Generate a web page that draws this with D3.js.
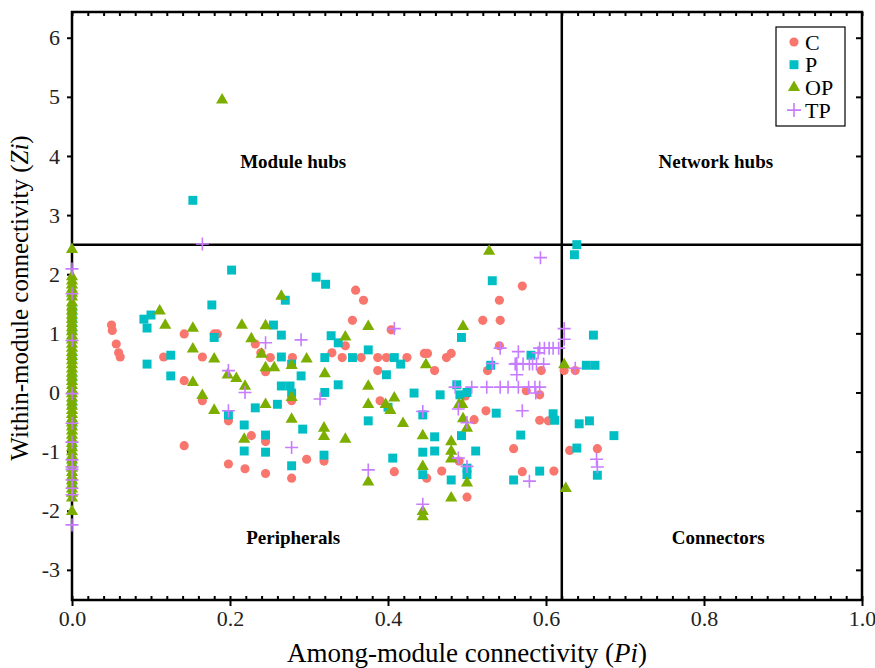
<!DOCTYPE html>
<html>
<head>
<meta charset="utf-8">
<script src="https://cdn.jsdelivr.net/npm/d3@7"></script>
<style>
  body { margin: 0; background: #fff; }
  text { font-family: "Liberation Serif", "Times New Roman", serif; }
</style>
</head>
<body>
<div id="chart"></div>
<script>
// Pi / Zi values
var cPoints = [[0.05,1.14],[0.051,1.05],[0.056,0.82],[0.059,0.67],[0.061,0.6],
  [0.142,0.99],[0.18,0.99],[0.184,0.99],[0.116,0.6],[0.165,0.6],
  [0.142,0.2],[0.165,-0.14],[0.232,0.82],[0.239,0.67],[0.251,0.59],[0.279,0.59],[0.245,0.35],[0.278,-0.14],
  [0.198,-0.48],[0.227,-0.73],[0.245,-0.83],[0.142,-0.9],[0.198,-1.21],[0.219,-1.29],[0.245,-1.37],[0.278,-1.45],[0.297,-1.13],
  [0.57,1.8],[0.359,1.73],[0.369,1.56],[0.541,1.56],[0.355,1.22],[0.52,1.22],[0.542,1.22],[0.404,1.06],
  [0.346,0.79],[0.329,0.67],[0.342,0.59],[0.366,0.59],[0.387,0.59],[0.398,0.59],[0.424,0.59],[0.446,0.66],[0.45,0.66],[0.474,0.59],[0.48,0.66],
  [0.459,0.37],[0.387,0.37],[0.39,-0.14],[0.498,-0.06],[0.575,0.03],[0.592,-0.04],[0.524,-0.31],[0.592,-0.47],[0.603,-0.48],[0.509,-0.46],
  [0.541,0.79],[0.526,0.37],[0.594,0.37],[0.623,0.37],[0.637,0.37],[0.559,-0.95],
  [0.319,-1.16],[0.408,-1.34],[0.449,-1.45],[0.468,-1.33],[0.49,-1.16],[0.5,-1.77],[0.57,-1.34],[0.61,-1.33],[0.63,-0.98],[0.665,-0.95]];

var pPoints = [[0,1.38],[0,1.3],[0,1.2],[0,1.07],[0,0.6],[0,0.25],[0,-0.2],[0,-0.55],[0,-0.9],[0,-1.2],[0,-1.55],
  [0.153,3.25],[0.202,2.07],[0.177,1.48],[0.27,1.56],[0.1,1.31],[0.091,1.24],[0.095,1.09],[0.18,0.93],[0.125,0.63],[0.095,0.48],[0.125,0.28],
  [0.198,-0.38],[0.232,-0.26],[0.26,-0.2],[0.255,1.14],[0.265,0.97],[0.265,0.6],[0.278,0.48],[0.29,0.28],[0.265,0.11],[0.276,0.11],[0.278,-0.01],
  [0.218,-0.55],[0.245,-0.72],[0.218,-0.99],[0.245,-1.01],[0.292,-0.62],[0.278,-1.24],
  [0.309,1.95],[0.321,1.83],[0.532,1.89],[0.493,0.93],[0.328,0.96],[0.337,0.84],[0.375,0.72],[0.32,0.59],[0.355,0.59],[0.408,0.59],[0.416,0.48],[0.398,0.3],[0.337,0.13],[0.32,0.0],
  [0.433,-0.01],[0.466,-0.04],[0.487,0.13],[0.491,-0.04],[0.5,0.0],[0.444,-0.38],[0.537,-0.35],[0.609,-0.36],[0.611,-0.47],[0.53,0.46],[0.581,0.63],
  [0.459,-0.75],[0.493,-0.73],[0.568,-0.72],[0.4,-0.25],[0.375,-0.48],[0.319,-1.06],[0.406,-1.11],[0.444,-1.01],[0.459,-0.99],[0.444,-1.39],[0.5,-1.28],[0.5,-1.39],[0.48,-1.48],
  [0.511,-0.99],[0.559,-1.48],[0.592,-1.33],[0.639,-0.94],[0.642,-0.53],
  [0.639,2.5],[0.636,2.33],[0.66,0.97],[0.651,0.46],[0.662,0.46],[0.655,-0.48],[0.686,-0.73],[0.665,-1.4]];

var opPoints = [[0,2.4],[0,1.94],[0,1.87],[0,1.8],[0,1.73],[0,1.66],[0,1.6],[0,1.5],[0,1.43],[0,1.36],[0,1.29],[0,1.22],
  [0,1.15],[0,1.08],[0,1.01],[0,0.94],[0,0.87],[0,0.8],[0,0.73],[0,0.66],[0,0.59],[0,0.52],[0,0.45],[0,0.38],[0,0.31],
  [0,0.24],[0,0.17],[0,0.1],[0,0.03],[0,-0.04],[0,-0.11],[0,-0.18],[0,-0.25],[0,-0.32],[0,-0.39],[0,-0.46],[0,-0.53],
  [0,-0.6],[0,-0.67],[0,-0.74],[0,-0.81],[0,-0.88],[0,-0.95],[0,-1.02],[0,-1.09],[0,-1.16],[0,-1.23],[0,-1.3],[0,-1.37],
  [0,-1.44],[0,-1.51],[0,-1.58],[0,-1.65],[0,-1.72],[0,-1.8],[0,-2.03],
  [0.19,4.93],[0.265,1.61],[0.111,1.36],[0.118,1.12],[0.153,1.07],[0.153,0.72],[0.18,0.55],[0.153,0.15],[0.165,-0.07],[0.18,-0.32],
  [0.197,0.28],[0.208,0.22],[0.219,0.09],[0.245,-0.22],[0.278,-0.47],
  [0.215,1.12],[0.245,1.11],[0.227,0.89],[0.24,0.63],[0.297,0.55],[0.278,0.44],[0.245,0.4],[0.256,0.4],[0.278,-0.1],[0.218,-0.81],
  [0.528,2.37],[0.375,1.1],[0.495,1.1],[0.346,0.92],[0.448,0.45],[0.32,0.3],[0.375,0.09],[0.408,-0.11],[0.375,-0.22],[0.397,-0.22],
  [0.403,-0.32],[0.49,-0.22],[0.494,-0.22],[0.623,0.45],[0.419,-0.54],[0.444,-0.75],[0.48,-0.85],[0.495,-0.46],[0.5,-0.62],
  [0.319,-0.62],[0.319,-0.76],[0.346,-0.81],[0.375,-1.53],[0.444,-1.27],[0.444,-2.03],[0.444,-2.12],[0.48,-1.01],[0.48,-1.14],
  [0.5,-1.55],[0.48,-1.8],[0.625,-1.64]];

var tpPoints = [[0,2.09],[0,1.67],[0,0.88],[0,-0.02],[0,-0.52],[0,-0.84],[0,-1.14],[0,-1.26],[0,-1.3],[0,-1.48],[0,-1.62],[0,-1.73],[0,-2.24],
  [0.165,2.51],[0.198,-0.31],[0.198,0.37],[0.219,0.0],[0.245,0.84],[0.29,0.89],[0.278,-0.93],
  [0.593,2.28],[0.408,1.08],[0.314,-0.11],[0.485,0.09],[0.506,0.09],[0.525,0.09],[0.542,0.09],[0.552,0.09],[0.565,0.09],[0.578,0.09],[0.586,0.09],[0.592,0.09],
  [0.587,-0.01],[0.489,-0.28],[0.444,-0.32],[0.57,-0.31],[0.542,0.75],[0.532,0.49],[0.565,0.69],[0.563,0.49],[0.563,0.3],
  [0.561,0.48],[0.571,0.48],[0.579,0.48],[0.583,0.48],[0.588,0.48],[0.597,0.48],[0.59,0.67],
  [0.592,0.75],[0.598,0.75],[0.604,0.75],[0.609,0.75],[0.616,0.75],[0.623,1.08],[0.623,0.9],[0.637,0.41],[0.5,-0.51],
  [0.375,-1.31],[0.489,-1.11],[0.5,-1.25],[0.444,-1.89],[0.579,-1.5],[0.664,-1.13],[0.665,-1.26]];

var roles = ["C", "P", "OP", "TP"];
var roleColors = ["#F8766D", "#00BFC4", "#7CAE00", "#C77CFF"];
var xTicks = [0, 0.2, 0.4, 0.6, 0.8, 1.0];
var yTicks = [-3, -2, -1, 0, 1, 2, 3, 4, 5, 6];
var piCut = 0.62, ziCut = 2.5;
var zones = [
  {name: "Module hubs", pi: 0.28, zi: 3.8},
  {name: "Network hubs", pi: 0.815, zi: 3.8},
  {name: "Peripherals", pi: 0.28, zi: -2.57},
  {name: "Connectors", pi: 0.818, zi: -2.57}
];

var W = 875, H = 668;
var m = {left: 72, right: 862, top: 12, bottom: 600};

var svg = d3.select("#chart").append("svg")
    .attr("width", W)
    .attr("height", H);

var x = d3.scaleLinear().domain([0, 1]).range([m.left, m.right]);
var y = d3.scaleLinear().domain([-3.51, 6.435]).range([m.bottom, m.top]);

// axes
var minor = d3.range(0, 1.0001, 0.02);

svg.append("g")
    .attr("transform", "translate(0," + m.bottom + ")")
    .call(d3.axisBottom(x).tickValues(minor).tickSize(-4).tickFormat(""))
    .call(function(g) { g.select(".domain").remove(); });

svg.append("g")
    .attr("class", "x axis")
    .attr("transform", "translate(0," + m.bottom + ")")
    .call(d3.axisBottom(x).tickValues(xTicks).tickSize(6).tickPadding(4).tickFormat(d3.format(".1f")))
    .call(function(g) { g.select(".domain").remove(); });

svg.append("g")
    .attr("transform", "translate(0," + m.top + ")")
    .call(d3.axisTop(x).tickValues(minor).tickSize(-4).tickFormat(""))
    .call(function(g) { g.select(".domain").remove(); });

svg.append("g")
    .attr("class", "y axis")
    .attr("transform", "translate(" + m.left + ",0)")
    .call(d3.axisLeft(y).tickValues(yTicks).tickSize(5).tickPadding(7)
      .tickFormat(function(d) { return String(d); }))
    .call(function(g) { g.select(".domain").remove(); });

svg.append("g")
    .attr("transform", "translate(" + m.right + ",0)")
    .call(d3.axisRight(y).tickValues(yTicks).tickSize(-6).tickFormat(""))
    .call(function(g) { g.select(".domain").remove(); });

svg.selectAll(".tick line").attr("stroke", "#000").attr("stroke-width", 2);
svg.selectAll(".tick text")
    .attr("font-size", 22)
    .attr("fill", "#222")
    .style("font-family", "'Liberation Serif', serif");

// frame
svg.append("rect")
    .attr("x", m.left).attr("y", m.top)
    .attr("width", m.right - m.left).attr("height", m.bottom - m.top)
    .attr("fill", "none").attr("stroke", "#000").attr("stroke-width", 2.5);

// quadrant lines
svg.append("line")
    .attr("x1", x(piCut)).attr("x2", x(piCut))
    .attr("y1", m.top).attr("y2", m.bottom)
    .attr("stroke", "#000").attr("stroke-width", 2.5);
svg.append("line")
    .attr("x1", m.left).attr("x2", m.right)
    .attr("y1", y(ziCut)).attr("y2", y(ziCut))
    .attr("stroke", "#000").attr("stroke-width", 2.5);

svg.selectAll(".zone")
    .data(zones)
  .enter().append("text")
    .attr("class", "zone")
    .attr("x", function(d) { return x(d.pi); })
    .attr("y", function(d) { return y(d.zi); })
    .attr("text-anchor", "middle")
    .attr("font-size", 19)
    .attr("font-weight", "bold")
    .text(function(d) { return d.name; });

// points
var circleSym = d3.symbol().type(d3.symbolCircle).size(66);
var squareSym = d3.symbol().type(d3.symbolSquare).size(80);
var triSym = d3.symbol().type(d3.symbolTriangle).size(64);
function crossPath(s) { return "M" + (-s) + ",0H" + s + "M0," + (-s) + "V" + s; }

var plot = svg.append("g");

plot.selectAll(".c").data(cPoints).enter().append("path")
    .attr("class", "c")
    .attr("d", circleSym)
    .attr("transform", function(d) { return "translate(" + x(d[0]) + "," + y(d[1]) + ")"; })
    .attr("fill", roleColors[0]);

plot.selectAll(".p").data(pPoints).enter().append("path")
    .attr("class", "p")
    .attr("d", squareSym)
    .attr("transform", function(d) { return "translate(" + x(d[0]) + "," + y(d[1]) + ")"; })
    .attr("fill", roleColors[1]);

plot.selectAll(".op").data(opPoints).enter().append("path")
    .attr("class", "op")
    .attr("d", triSym)
    .attr("transform", function(d) { return "translate(" + x(d[0]) + "," + (y(d[1]) - 1) + ")"; })
    .attr("fill", roleColors[2]);

plot.selectAll(".tp").data(tpPoints).enter().append("path")
    .attr("class", "tp")
    .attr("d", crossPath(6.5))
    .attr("transform", function(d) { return "translate(" + x(d[0]) + "," + y(d[1]) + ")"; })
    .attr("fill", "none")
    .attr("stroke", roleColors[3])
    .attr("stroke-width", 1.6);

// legend
var legend = svg.append("g").attr("transform", "translate(776,27)");
legend.append("rect")
    .attr("width", 69).attr("height", 99)
    .attr("fill", "#fff").attr("stroke", "#000").attr("stroke-width", 1.2);

var shapes = [circleSym(), squareSym(), triSym(), crossPath(7)];
var item = legend.selectAll(".item")
    .data(roles)
  .enter().append("g")
    .attr("transform", function(d, i) { return "translate(18," + (15 + i * 22.7) + ")"; });

item.append("path")
    .attr("d", function(d, i) { return shapes[i]; })
    .attr("fill", function(d, i) { return i == 3 ? "none" : roleColors[i]; })
    .attr("stroke", function(d, i) { return i == 3 ? roleColors[i] : "none"; })
    .attr("stroke-width", 1.6);

item.append("text")
    .attr("x", 11)
    .attr("dy", "0.35em")
    .attr("font-size", 22)
    .text(function(d) { return d; });

// axis titles
var xt = svg.append("text")
    .attr("x", 467)
    .attr("y", 662)
    .attr("text-anchor", "middle")
    .attr("font-size", 27);
xt.append("tspan").text("Among-module connectivity (");
xt.append("tspan").attr("font-style", "italic").text("Pi");
xt.append("tspan").text(")");

var yt = svg.append("text")
    .attr("transform", "translate(28,298) rotate(-90)")
    .attr("text-anchor", "middle")
    .attr("font-size", 25);
yt.append("tspan").text("Within-module connectivity (");
yt.append("tspan").attr("font-style", "italic").text("Zi");
yt.append("tspan").text(")");
</script>
</body>
</html>
